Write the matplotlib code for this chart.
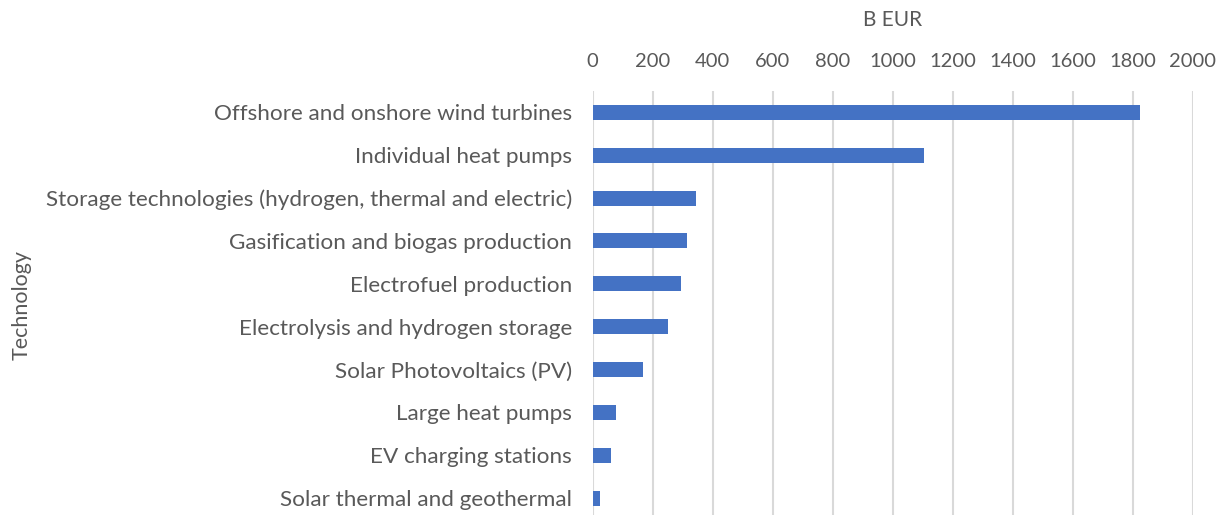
import matplotlib.pyplot as plt
import numpy as np

# technologies, top to bottom
technologies = [
    "Offshore and onshore wind turbines",
    "Individual heat pumps",
    "Storage technologies (hydrogen, thermal and electric)",
    "Gasification and biogas production",
    "Electrofuel production",
    "Electrolysis and hydrogen storage",
    "Solar Photovoltaics (PV)",
    "Large heat pumps",
    "EV charging stations",
    "Solar thermal and geothermal",
]
investment = [1824, 1104, 344, 314, 295, 251, 168, 77, 62, 24]  # B EUR
xticks = [0, 200, 400, 600, 800, 1000, 1200, 1400, 1600, 1800, 2000]

plt.rcParams['font.family'] = ['Lato', 'DejaVu Sans']
txt = '#595959'

fig = plt.figure(figsize=(12.2, 5.15), dpi=100)
ax = fig.add_axes([0.4858, -0.0087, 0.492, 0.832])

y = np.arange(len(technologies))
ax.barh(y, investment, height=0.35, color='#4472C4', zorder=3)
ax.set_ylim(len(technologies) - 0.5, -0.5)
ax.set_xlim(0, 2000)

ax.set_xticks(xticks)
ax.set_yticks(y)
ax.set_yticklabels(technologies)
ax.xaxis.tick_top()
ax.tick_params(axis='x', length=0, pad=15, labelsize=14.5, labelcolor=txt)
ax.tick_params(axis='y', length=0, pad=15, labelsize=16.2, labelcolor=txt)

# axis titles
fig.text(893 / 1220, 1 - 20 / 515, "B EUR", fontsize=15, color=txt,
         ha='center', va='center')
fig.text(22 / 1220, 1 - 305 / 515, "Technology", fontsize=15.5, color=txt,
         ha='center', va='center', rotation=90)

ax.grid(axis='x', color='#d9d9d9', linewidth=1.5, zorder=0)
for s in ax.spines.values():
    s.set_visible(False)

fig.savefig('out.png', dpi=100)
